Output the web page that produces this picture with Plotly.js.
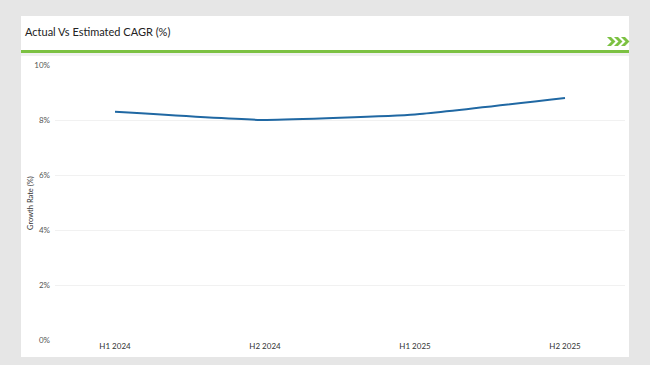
<!DOCTYPE html>
<html><head><meta charset="utf-8">
<script src="https://cdn.plot.ly/plotly-3.0.1.min.js"></script>
<style>
html,body{margin:0;padding:0;background:#e6e6e6;width:650px;height:365px;overflow:hidden;}
#panel{position:absolute;left:21px;top:16px;width:608px;height:341px;background:#fff;}
#band{position:absolute;left:21px;top:53px;width:608px;height:3px;background:#f0f0f0;}
#green{position:absolute;left:21px;top:50px;width:608px;height:3px;background:#7cc142;}
#chart{position:absolute;left:0;top:0;width:650px;height:365px;}
</style></head>
<body>
<div id="panel"></div><div id="band"></div><div id="green"></div>
<div id="chart"></div>
<script>
const periods = ["H1 2024", "H2 2024", "H1 2025", "H2 2025"];
const growthRate = [8.3, 8.0, 8.2, 8.8];
const yTickVals = [0, 2, 4, 6, 8, 10];
const yTickText = ["0%", "2%", "4%", "6%", "8%", "10%"];
const chartTitle = "Actual Vs Estimated CAGR (%)";
const yTitle = "Growth Rate (%)";

const L = 55, R = 625, T = 65, B = 340;
const px = x => (x - L) / (R - L);
const py = y => (B - y) / (B - T);

const shapes = [];
[607, 614, 621].forEach(x0 => {
  const pts = [[x0,37],[x0+4,37],[x0+8.5,41.5],[x0+4,46],[x0,46],[x0+4.5,41.5]];
  const d = 'M' + pts.map(p => px(p[0]).toFixed(5) + ',' + py(p[1]).toFixed(5)).join(' L') + ' Z';
  shapes.push({type:'path', xref:'paper', yref:'paper', path:d, fillcolor:'#7cc142', line:{width:0}});
});

const trace = {
  x: periods, y: growthRate, type: 'scatter', mode: 'lines',
  line: {color: '#2068a3', width: 2, shape: 'spline', smoothing: 0.4},
  hoverinfo: 'skip'
};

const layout = {
  width: 650, height: 365,
  paper_bgcolor: 'rgba(0,0,0,0)', plot_bgcolor: 'rgba(0,0,0,0)',
  margin: {l: L, r: 650 - R, t: T, b: 365 - B},
  showlegend: false,
  font: {family: 'Lato, "Open Sans", sans-serif', color: '#444'},
  title: {text: chartTitle, x: 25/650, xanchor: 'left', y: 1 - 32.5/365, yanchor: 'middle',
          font: {family: 'Lato, sans-serif', size: 11, color: '#222'}},
  xaxis: {type: 'category', range: [-0.4, 3.4], showgrid: false, zeroline: false, showline: false,
          ticks: '', tickfont: {size: 8, color: '#333'}, fixedrange: true},
  yaxis: {range: [0, 10], tickvals: yTickVals, ticktext: yTickText, showgrid: true,
          gridcolor: '#f1f1f1', gridwidth: 1, zeroline: false, showline: false, ticks: '',
          ticklabelstandoff: 4, tickfont: {size: 8, color: '#555'}, fixedrange: true},
  annotations: [{text: yTitle, xref: 'paper', yref: 'paper', x: px(30), y: py(203),
                 xanchor: 'center', yanchor: 'middle', textangle: -90, showarrow: false,
                 font: {size: 7.5, color: '#333'}}],
  shapes: shapes
};
Plotly.newPlot('chart', [trace], layout, {displayModeBar: false, staticPlot: true});
</script>
</body></html>
